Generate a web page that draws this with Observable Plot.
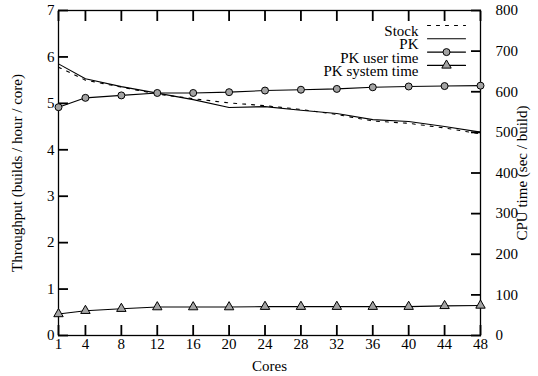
<!DOCTYPE html>
<html>
<head>
<meta charset="utf-8">
<script src="https://cdn.jsdelivr.net/npm/d3@7"></script>
<script src="https://cdn.jsdelivr.net/npm/@observablehq/plot@0.6"></script>
<style>
  html, body { margin: 0; padding: 0; background: white; }
  svg { overflow: visible; }
</style>
</head>
<body>
<div id="chart"></div>
<script>
const cores = [1, 4, 8, 12, 16, 20, 24, 28, 32, 36, 40, 44, 48];
const stock = [5.78, 5.50, 5.35, 5.20, 5.10, 5.01, 4.95, 4.87, 4.76, 4.62, 4.57, 4.47, 4.34];
const pk = [5.85, 5.53, 5.36, 5.22, 5.08, 4.91, 4.93, 4.85, 4.78, 4.65, 4.61, 4.50, 4.38];
const userTime = [562, 585, 591, 597, 597, 599, 603, 605, 607, 611, 613, 614, 615];
const sysTime = [53, 61, 66, 70, 70, 70, 71, 71, 71, 71, 71, 73, 74];
const leftTicks = [0, 1, 2, 3, 4, 5, 6, 7];
const rightTicks = [0, 100, 200, 300, 400, 500, 600, 700, 800];
const legendLabels = ["Stock", "PK", "PK user time", "PK system time"];

const leftMax = 7, rightMax = 800;
const toLeft = v => v * leftMax / rightMax;
const xMin = cores[0], xMax = cores[cores.length - 1];

const rows = cores.map((c, i) => ({c, stock: stock[i], pk: pk[i], user: userTime[i], sys: sysTime[i]}));
const gray = "#a3a3a3";

const lineShape = {draw(ctx, l) { ctx.moveTo(0, 0); ctx.lineTo(0, -l); }};
const T = 10; // inward tick length
const tk = {tickSize: T, label: null, tickFormat: () => "", strokeWidth: 1.8, stroke: "#000", strokeOpacity: 1};

const legendMarks = [];
legendLabels.forEach((lab, i) => {
  const dy = 15 + 13.3 * i;
  legendMarks.push(Plot.text([lab], {frameAnchor: "top-right", dx: -62, dy, text: d => d, textAnchor: "end"}));
  legendMarks.push(Plot.vector([lab], {frameAnchor: "top-right", dx: -53, dy, length: 38, rotate: 90, anchor: "start",
    shape: lineShape, stroke: "black", strokeWidth: 1.1, strokeDasharray: i === 0 ? "3,6" : null}));
  if (i === 2) legendMarks.push(Plot.dot([lab], {frameAnchor: "top-right", dx: -34, dy, r: 3.5, fill: gray, stroke: "black", strokeWidth: 1}));
  if (i === 3) legendMarks.push(Plot.dot([lab], {frameAnchor: "top-right", dx: -34, dy, r: 3.5, symbol: "triangle", fill: gray, stroke: "black", strokeWidth: 1}));
});

const chart = Plot.plot({
  width: 538,
  height: 376,
  marginLeft: 58,
  marginRight: 58,
  marginTop: 10,
  marginBottom: 41,
  style: {fontFamily: "'Liberation Serif', 'Times New Roman', serif", fontSize: "15px", background: "white", color: "black", overflow: "visible"},
  x: {domain: [xMin, xMax]},
  y: {domain: [0, leftMax]},
  marks: [
    // tick labels
    Plot.axisX({ticks: cores, tickSize: 0, tickPadding: 3, label: null, tickFormat: d => d}),
    Plot.axisY({ticks: leftTicks, tickSize: 0, tickPadding: 4, label: null, tickFormat: d => d}),
    Plot.axisY({anchor: "right", ticks: rightTicks.map(toLeft), tickSize: 0, tickPadding: 15, label: null,
      tickFormat: d => Math.round(d * rightMax / leftMax)}),
    // inward ticks (axis ticks shifted into the frame)
    Plot.axisX({anchor: "bottom", ticks: cores, dy: -T, ...tk}),
    Plot.axisX({anchor: "top", ticks: cores, dy: T, ...tk}),
    Plot.axisY({anchor: "left", ticks: leftTicks, dx: T, ...tk}),
    Plot.axisY({anchor: "right", ticks: rightTicks.map(toLeft), dx: -T, ...tk}),
    Plot.frame({stroke: "black", strokeWidth: 1.3}),
    // titles
    Plot.text(["Cores"], {frameAnchor: "bottom", dy: 35, text: d => d, textAnchor: "middle"}),
    Plot.text(["Throughput (builds / hour / core)"], {frameAnchor: "left", dx: -41, rotate: -90, text: d => d, textAnchor: "middle"}),
    Plot.text(["CPU time (sec / build)"], {frameAnchor: "right", dx: 42, rotate: -90, text: d => d, textAnchor: "middle"}),
    // data
    Plot.line(rows, {x: "c", y: "stock", stroke: "black", strokeWidth: 1.1, strokeDasharray: "3,6"}),
    Plot.line(rows, {x: "c", y: "pk", stroke: "black", strokeWidth: 1.1}),
    Plot.line(rows, {x: "c", y: d => toLeft(d.user), stroke: "black", strokeWidth: 1.1}),
    Plot.dot(rows, {x: "c", y: d => toLeft(d.user), r: 3.5, fill: gray, stroke: "black", strokeWidth: 1}),
    Plot.line(rows, {x: "c", y: d => toLeft(d.sys), stroke: "black", strokeWidth: 1.1}),
    Plot.dot(rows, {x: "c", y: d => toLeft(d.sys), r: 3.5, symbol: "triangle", fill: gray, stroke: "black", strokeWidth: 1}),
    ...legendMarks
  ]
});
document.getElementById("chart").appendChild(chart);
</script>
</body>
</html>
